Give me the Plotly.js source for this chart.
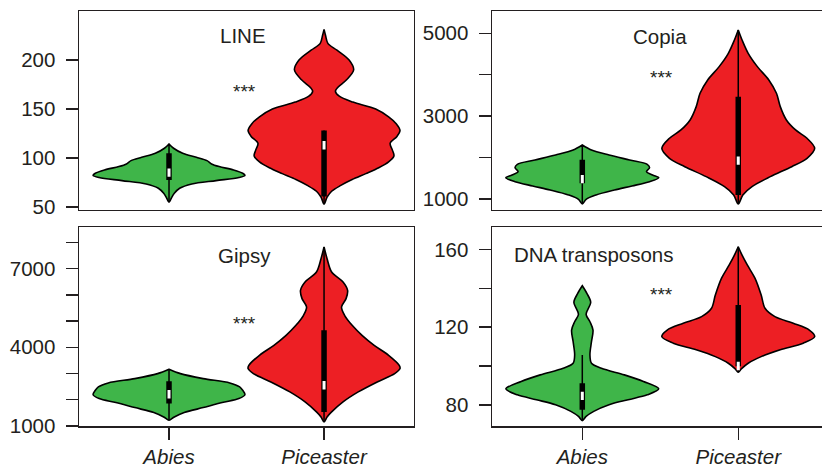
<!DOCTYPE html>
<html>
<head>
<meta charset="utf-8">
<script src="https://cdn.plot.ly/plotly-3.0.1.min.js"></script>
<style>html,body{margin:0;padding:0;overflow:hidden;background:#fff}#chart{width:822px;height:467px}</style>
</head>
<body>
<div id="chart"></div>
<script>
// ---------- data ----------
const groups = ['Abies', 'Piceaster'];
const panelTitles = ['LINE', 'Copia', 'Gipsy', 'DNA transposons'];
const significance = ['***', '***', '***', '***'];

// density profiles: levels (bottom -> top) and relative half-width (0..1)
const lineAbiesLevels = [54.8, 58.9, 64, 69.1, 73.5, 76.9, 80, 82.3, 84.4, 87.8, 91.2, 93.9, 97.3, 100.7, 104.8, 109.9, 114.3];
const lineAbiesDensity = [0, 0.03, 0.07, 0.14, 0.3, 0.62, 0.92, 1.0, 0.97, 0.85, 0.66, 0.56, 0.5, 0.36, 0.18, 0.06, 0];
const lineAbiesBox = [55, 77.6, 85, 104.8, 114];          // [whiskerLow, q1, median, q3, whiskerHigh]

const linePiceasterLevels = [53, 60, 66, 72, 78, 84, 90, 96, 102, 108, 115, 122, 128, 135, 142, 150, 157, 163, 168, 172, 180, 190, 200, 210, 217, 225, 231.3];
const linePiceasterDensity = [0, 0.04, 0.1, 0.22, 0.37, 0.55, 0.72, 0.85, 0.92, 0.9, 0.87, 0.96, 1.0, 0.95, 0.85, 0.68, 0.38, 0.2, 0.15, 0.18, 0.3, 0.39, 0.33, 0.17, 0.05, 0.02, 0];
const linePiceasterBox = [53, 60.6, 113, 128, 128];

const copiaAbiesLevels = [879, 992, 1097, 1217, 1314, 1418, 1515, 1579, 1660, 1756, 1837, 1941, 2062, 2183, 2304];
const copiaAbiesDensity = [0, 0.05, 0.18, 0.42, 0.65, 0.88, 1.0, 0.92, 0.84, 0.88, 0.85, 0.62, 0.35, 0.12, 0];
const copiaAbiesBox = [879, 1379, 1480, 1950, 2304];

const copiaPiceasterLevels = [879, 1097, 1298, 1539, 1780, 1982, 2223, 2465, 2666, 2907, 3229, 3551, 3873, 4195, 4517, 4838, 5080];
const copiaPiceasterDensity = [0, 0.06, 0.18, 0.42, 0.7, 0.9, 1.0, 0.9, 0.75, 0.63, 0.55, 0.5, 0.4, 0.25, 0.13, 0.05, 0];
const copiaPiceasterBox = [879, 1097, 1925, 3470, 5080];

const gipsyAbiesLevels = [1216, 1343, 1508, 1699, 1890, 2042, 2195, 2360, 2487, 2640, 2805, 2995, 3161];
const gipsyAbiesDensity = [0, 0.07, 0.2, 0.45, 0.7, 0.92, 1.0, 0.97, 0.93, 0.8, 0.45, 0.15, 0];
const gipsyAbiesBox = [1216, 1852, 2207, 2703, 3161];

const gipsyPiceasterLevels = [1152, 1343, 1534, 1915, 2296, 2678, 2995, 3186, 3313, 3695, 4076, 4457, 4838, 5220, 5537, 5855, 6173, 6491, 6872, 7380, 7825];
const gipsyPiceasterDensity = [0, 0.04, 0.1, 0.25, 0.45, 0.7, 0.93, 1.0, 0.99, 0.85, 0.66, 0.5, 0.37, 0.27, 0.23, 0.29, 0.31, 0.25, 0.1, 0.04, 0];
const gipsyPiceasterBox = [1152, 1534, 2551, 4648, 7825];

const dnaAbiesLevels = [71.8, 74, 76.6, 80, 82.6, 85.1, 88.2, 92, 95.4, 98.8, 101.4, 105.7, 112.5, 118.5, 122.8, 126.6, 132.8, 137.4, 141.3];
const dnaAbiesDensity = [0, 0.05, 0.15, 0.35, 0.6, 0.85, 1.0, 0.8, 0.55, 0.25, 0.12, 0.1, 0.12, 0.14, 0.1, 0.05, 0.11, 0.06, 0];
const dnaAbiesBox = [71.8, 77.4, 84.6, 91.1, 105.7];

const dnaPiceasterLevels = [96.8, 98.5, 101.4, 104.8, 108.3, 111.7, 115.1, 118.5, 122, 125.4, 129.7, 136.5, 145.1, 151.9, 157.1, 161.4];
const dnaPiceasterDensity = [0, 0.04, 0.13, 0.3, 0.55, 0.85, 1.0, 0.93, 0.72, 0.48, 0.35, 0.3, 0.22, 0.12, 0.05, 0];
const dnaPiceasterBox = [96.8, 99.8, 100, 131.4, 161.4];

// y tick values and labels per panel
const lineTicks = [50, 100, 150, 200];
const lineTickText = ['50', '100', '150', '200'];
const copiaTicks = [1000, 2000, 3000, 4000, 5000];
const copiaTickText = ['1000', '', '3000', '', '5000'];
const gipsyTicks = [1000, 2000, 3000, 4000, 5000, 6000, 7000, 8000];
const gipsyTickText = ['1000', '', '', '4000', '', '', '7000', ''];
const dnaTicks = [80, 100, 120, 140, 160];
const dnaTickText = ['80', '', '120', '', '160'];

// ---------- drawing ----------
const GREEN = '#3fb549', RED = '#ed1f24', INK = '#231f20';
const HALF = 0.49;
const panels = [
  {ax: ['x', 'y'], v: [[lineAbiesLevels, lineAbiesDensity, lineAbiesBox], [linePiceasterLevels, linePiceasterDensity, linePiceasterBox]]},
  {ax: ['x2', 'y2'], v: [[copiaAbiesLevels, copiaAbiesDensity, copiaAbiesBox], [copiaPiceasterLevels, copiaPiceasterDensity, copiaPiceasterBox]]},
  {ax: ['x3', 'y3'], v: [[gipsyAbiesLevels, gipsyAbiesDensity, gipsyAbiesBox], [gipsyPiceasterLevels, gipsyPiceasterDensity, gipsyPiceasterBox]]},
  {ax: ['x4', 'y4'], v: [[dnaAbiesLevels, dnaAbiesDensity, dnaAbiesBox], [dnaPiceasterLevels, dnaPiceasterDensity, dnaPiceasterBox]]}
];
const traces = [];
panels.forEach(p => {
  p.v.forEach((g, gi) => {
    const pos = gi + 1;
    const [lev, den, box] = g;
    const xs = lev.map((l, i) => pos - den[i] * HALF).concat(lev.slice().reverse().map((l, i) => pos + den[lev.length - 1 - i] * HALF));
    const ys = lev.concat(lev.slice().reverse());
    traces.push({type: 'scatter', mode: 'lines', x: xs, y: ys, xaxis: p.ax[0], yaxis: p.ax[1],
      fill: 'toself', fillcolor: gi === 0 ? GREEN : RED,
      line: {color: '#000', width: 1.6, shape: 'spline', smoothing: 0.9}, hoverinfo: 'skip', showlegend: false});
    traces.push({type: 'scatter', mode: 'lines', x: [pos, pos], y: [box[0], box[4]], xaxis: p.ax[0], yaxis: p.ax[1],
      line: {color: '#000', width: 1.5}, showlegend: false, hoverinfo: 'skip'});
    traces.push({type: 'scatter', mode: 'lines', x: [pos, pos], y: [box[1], box[3]], xaxis: p.ax[0], yaxis: p.ax[1],
      line: {color: '#000', width: 5.5}, showlegend: false, hoverinfo: 'skip'});
    traces.push({type: 'scatter', mode: 'markers', x: [pos], y: [box[2]], xaxis: p.ax[0], yaxis: p.ax[1],
      marker: {symbol: 'line-ns', size: 6, color: '#fff', line: {color: '#fff', width: 3}}, showlegend: false, hoverinfo: 'skip'});
  });
});

const font = {family: 'Liberation Sans, Arial, sans-serif', size: 20, color: INK};
function xax(domain, range, showLabels, anchor) {
  return {domain: domain, range: range, anchor: anchor, showgrid: false, zeroline: false, showline: true, mirror: true,
    linecolor: INK, linewidth: 1.5, tickvals: [1, 2], ticktext: groups,
    ticks: showLabels ? 'outside' : '', showticklabels: showLabels, ticklen: 12, tickwidth: 1.5, tickcolor: INK,
    tickfont: {family: font.family, size: 20.5, color: INK, style: 'italic'}, ticklabelstandoff: 0, fixedrange: true};
}
function yax(domain, range, tv, tt, anchor) {
  return {domain: domain, range: range, anchor: anchor, showgrid: false, zeroline: false, showline: true, mirror: true,
    linecolor: INK, linewidth: 1.5, tickvals: tv, ticktext: tt, ticks: 'outside', ticklen: 12, tickwidth: 1.5,
    tickcolor: INK, tickfont: {family: font.family, size: 20.5, color: INK}, ticklabelstandoff: 6, fixedrange: true};
}
const xl = [79 / 822, 413.5 / 822], xr = [492 / 822, 1];
const yt = [1 - 209.5 / 467, 1 - 11 / 467], yb = [1 - 426.3 / 467, 1 - 227 / 467];

const ann = (t, x, y, size) => ({text: t, x: x / 822, y: 1 - y / 467, xref: 'paper', yref: 'paper',
  showarrow: false, xanchor: 'center', yanchor: 'middle', font: {family: font.family, size: size, color: INK}});

const layout = {
  width: 822, height: 467, margin: {l: 0, r: 0, t: 0, b: 0},
  paper_bgcolor: '#fff', plot_bgcolor: '#fff', font: font, showlegend: false,
  xaxis: xax(xl, [0.4194, 2.577], false, 'y'), yaxis: yax(yt, [47.4, 250], lineTicks, lineTickText, 'x'),
  xaxis2: xax(xr, [0.421, 2.537], false, 'y2'), yaxis2: yax(yt, [746, 5538], copiaTicks, copiaTickText, 'x2'),
  xaxis3: xax(xl, [0.4194, 2.577], true, 'y3'), yaxis3: yax(yb, [985, 8588], gipsyTicks, gipsyTickText, 'x3'),
  xaxis4: xax(xr, [0.421, 2.537], true, 'y4'), yaxis4: yax(yb, [68.9, 171.6], dnaTicks, dnaTickText, 'x4'),
  annotations: [
    ann(panelTitles[0], 243, 35, 20.5), ann(panelTitles[1], 660, 36, 20.5),
    ann(panelTitles[2], 244, 255, 20.5), ann(panelTitles[3], 594, 254, 20.5),
    ann(significance[0], 244, 92, 19), ann(significance[1], 661, 77, 19),
    ann(significance[2], 244, 323, 19), ann(significance[3], 661, 294, 19)
  ]
};
Plotly.newPlot('chart', traces, layout, {staticPlot: true, displayModeBar: false});
</script>
</body>
</html>
